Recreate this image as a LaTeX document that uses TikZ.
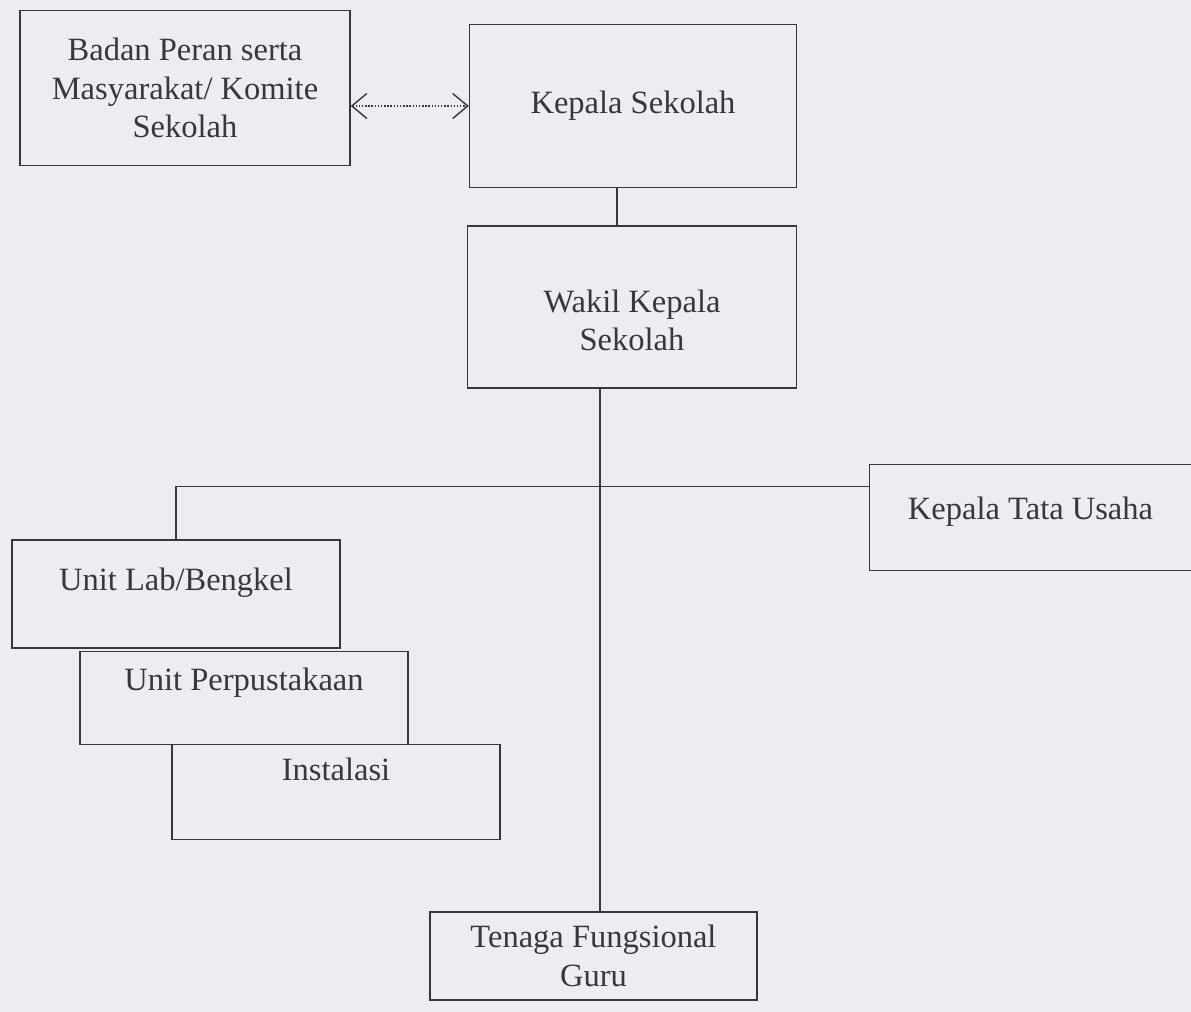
\documentclass[tikz,border=0pt]{standalone}
\usepackage{fontspec}
\setmainfont{Liberation Serif}
\usetikzlibrary{arrows.meta,calc}
\definecolor{paper}{RGB}{236,237,241}
\definecolor{ink}{RGB}{55,55,60}
\tikzset{
  orgbox/.style={draw=ink, line width=0.8pt, rectangle, align=center, text=ink,
    font=\fontsize{18.5}{22}\selectfont, inner sep=2pt},
  orgtext/.style={align=center, text=ink, font=\fontsize{18.5}{21.5}\selectfont, inner sep=2pt},
  link/.style={draw=ink, line width=0.8pt},
}
\begin{document}
\begin{tikzpicture}
\fill[paper] (0,0) rectangle (23.82,-20.24);
\useasboundingbox (0,0) rectangle (23.82,-20.24);

\node[orgbox, minimum width=6.6cm, minimum height=3.1cm] (badan) at (3.70,-1.76)
  {Badan Peran serta\\Masyarakat/ Komite\\Sekolah};
\node[orgbox, minimum width=6.54cm, minimum height=3.26cm] (kepala) at (12.66,-2.12)
  {Kepala Sekolah};
\node[orgbox, minimum width=6.58cm, minimum height=3.24cm] (wakil) at (12.64,-6.14) {};
\node[orgtext] (wakiltxt) at ([yshift=-0.26cm]wakil.center) {Wakil Kepala\\Sekolah};
\node[orgbox, draw=none, minimum width=6.42cm, minimum height=2.1cm, text depth=0.38cm] (tu) at (20.61,-10.35)
  {Kepala Tata Usaha};
\draw[link] (tu.north east) -- (tu.north west) -- (tu.south west) -- (tu.south east);
\node[orgbox, minimum width=6.56cm, minimum height=2.16cm, text depth=0.58cm] (lab) at (3.52,-11.88)
  {Unit Lab/Bengkel};
\node[orgbox, minimum width=6.56cm, minimum height=1.86cm, text depth=0.74cm] (perp) at (4.88,-13.96)
  {Unit Perpustakaan};
\node[orgbox, minimum width=6.56cm, minimum height=1.9cm, text depth=0.9cm] (inst) at (6.72,-15.84)
  {Instalasi};
\node[orgbox, minimum width=6.54cm, minimum height=1.76cm] (tenaga) at (11.87,-19.12)
  {Tenaga Fungsional\\Guru};

% connectors
\draw[link, densely dotted, {Straight Barb[length=0.3cm,width=0.5cm]}-{Straight Barb[length=0.3cm,width=0.5cm]}]
  (badan.east |- kepala.west) -- (kepala.west);
\draw[link] ([xshift=-0.32cm]kepala.south) -- ([xshift=-0.32cm]kepala.south |- wakil.north);
\draw[link] ([xshift=-0.64cm]wakil.south) -- ([xshift=-0.64cm]wakil.south |- tenaga.north);
\coordinate (tuj) at ($(tu.north west)+(0,-0.44)$);
\draw[link] (tuj) -| (lab.north);
\end{tikzpicture}
\end{document}
